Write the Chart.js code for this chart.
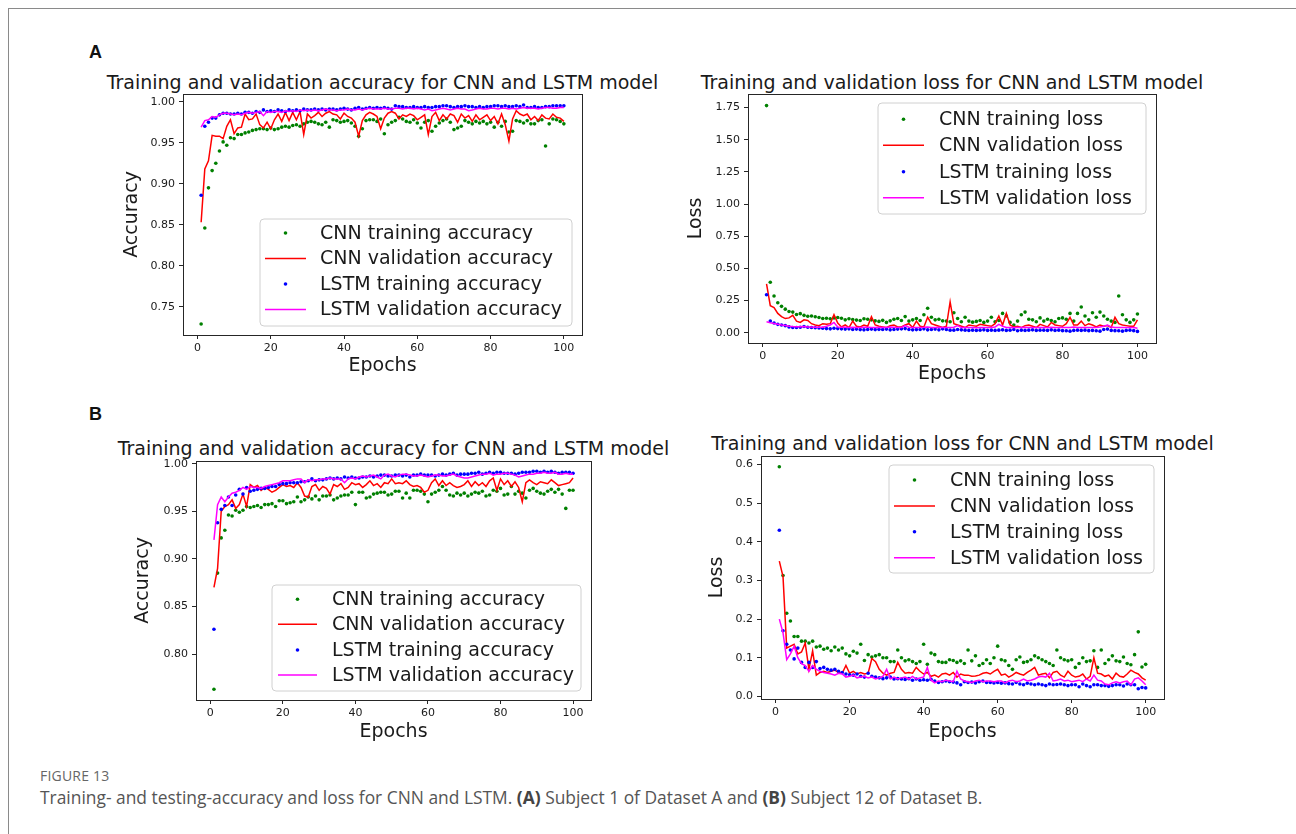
<!DOCTYPE html>
<html><head><meta charset="utf-8">
<script src="https://cdn.jsdelivr.net/npm/chart.js@4.4.1/dist/chart.umd.min.js"></script>
<style>
html,body{margin:0;padding:0;background:#fff;}
#fig{position:relative;width:1296px;height:834px;overflow:hidden;background:#fff;}
.frame-top{position:absolute;left:8px;top:8px;width:1288px;height:1px;background:#8a8a8a;}
.frame-left{position:absolute;left:8px;top:8px;width:1px;height:826px;background:#8a8a8a;}
.panel{position:absolute;font-family:"Liberation Sans",Arial,sans-serif;font-weight:bold;font-size:18px;line-height:18px;color:#111;}
.ttl{position:absolute;font-family:"DejaVu Sans",sans-serif;font-size:19px;line-height:19px;color:#1a1a1a;white-space:nowrap;transform:translate(-50%,-50%);}
canvas{position:absolute;}
.fignum{position:absolute;left:40px;top:766px;font-family:"Open Sans",sans-serif;font-size:14px;color:#666;letter-spacing:0.2px;}
.cap{position:absolute;left:40px;top:785px;font-family:"Open Sans",sans-serif;font-size:17.4px;color:#555;white-space:nowrap;}
.cap b{font-weight:700;color:#444;}
</style>
</head>
<body>
<div id="fig">
  <div class="frame-top"></div><div class="frame-left"></div>
  <div class="panel" style="left:89px;top:43px;">A</div>
  <div class="panel" style="left:89px;top:405px;">B</div>
  <div class="ttl" style="left:382.5px;top:81.7px;">Training and validation accuracy for CNN and LSTM model</div>
  <div class="ttl" style="left:952px;top:81.7px;">Training and validation loss for CNN and LSTM model</div>
  <div class="ttl" style="left:393.5px;top:448.3px;">Training and validation accuracy for CNN and LSTM model</div>
  <div class="ttl" style="left:962.5px;top:442.7px;">Training and validation loss for CNN and LSTM model</div>
  <canvas id="cA1"></canvas>
  <canvas id="cA2"></canvas>
  <canvas id="cB1"></canvas>
  <canvas id="cB2"></canvas>
  <div class="fignum">FIGURE 13</div>
  <div class="cap">Training- and testing-accuracy and loss for CNN and LSTM. <b>(A)</b> Subject 1 of Dataset A and <b>(B)</b> Subject 12 of Dataset B.</div>
</div>
<script>
// ---------- data ----------
const epochs = [1,2,3,4,5,6,7,8,9,10,11,12,13,14,15,16,17,18,19,20,21,22,23,24,25,26,27,28,29,30,31,32,33,34,35,36,37,38,39,40,41,42,43,44,45,46,47,48,49,50,51,52,53,54,55,56,57,58,59,60,61,62,63,64,65,66,67,68,69,70,71,72,73,74,75,76,77,78,79,80,81,82,83,84,85,86,87,88,89,90,91,92,93,94,95,96,97,98,99,100];

const accLabels = ['CNN training accuracy','CNN validation accuracy','LSTM training accuracy','LSTM validation accuracy'];
const lossLabels = ['CNN training loss','CNN validation loss','LSTM training loss','LSTM validation loss'];

const xTicks = [0,20,40,60,80,100];
const xTickLabels = ['0','20','40','60','80','100'];
const yTicksA1 = [0.75,0.80,0.85,0.90,0.95,1.00];
const yTickLabelsA1 = ['0.75','0.80','0.85','0.90','0.95','1.00'];
const yTicksA2 = [0,0.25,0.5,0.75,1.0,1.25,1.5,1.75];
const yTickLabelsA2 = ['0.00','0.25','0.50','0.75','1.00','1.25','1.50','1.75'];
const yTicksB1 = [0.80,0.85,0.90,0.95,1.00];
const yTickLabelsB1 = ['0.80','0.85','0.90','0.95','1.00'];
const yTicksB2 = [0,0.1,0.2,0.3,0.4,0.5,0.6];
const yTickLabelsB2 = ['0.0','0.1','0.2','0.3','0.4','0.5','0.6'];

// Panel A, accuracy
const cnnTrainAccA = [0.729,0.846,0.895,0.916,0.925,0.940,0.951,0.947,0.956,0.955,
0.960,0.960,0.962,0.963,0.965,0.966,0.967,0.967,0.966,0.968,
0.966,0.967,0.969,0.970,0.969,0.971,0.972,0.970,0.973,0.975,
0.976,0.975,0.973,0.972,0.975,0.969,0.978,0.977,0.975,0.976,
0.977,0.974,0.970,0.958,0.967,0.977,0.978,0.978,0.976,0.979,
0.961,0.972,0.975,0.977,0.981,0.979,0.976,0.975,0.978,0.974,
0.968,0.975,0.977,0.964,0.970,0.974,0.977,0.979,0.975,0.966,
0.968,0.970,0.977,0.975,0.973,0.976,0.974,0.976,0.973,0.975,
0.969,0.975,0.970,0.976,0.963,0.964,0.977,0.976,0.974,0.977,
0.973,0.973,0.977,0.978,0.946,0.973,0.979,0.978,0.976,0.973];
const cnnValAccA = [0.853,0.918,0.928,0.959,0.958,0.958,0.955,0.970,0.978,0.961,
0.968,0.969,0.985,0.978,0.979,0.985,0.972,0.968,0.975,0.967,
0.978,0.985,0.976,0.987,0.977,0.987,0.978,0.988,0.960,0.985,
0.980,0.983,0.987,0.982,0.986,0.988,0.985,0.984,0.979,0.986,
0.982,0.980,0.975,0.958,0.977,0.984,0.987,0.985,0.982,0.967,
0.980,0.986,0.988,0.986,0.979,0.984,0.982,0.985,0.983,0.978,
0.981,0.984,0.960,0.982,0.987,0.977,0.984,0.979,0.985,0.983,
0.975,0.985,0.980,0.983,0.976,0.984,0.978,0.981,0.984,0.977,
0.982,0.973,0.985,0.972,0.952,0.979,0.989,0.985,0.983,0.985,
0.978,0.982,0.977,0.984,0.980,0.979,0.985,0.981,0.980,0.976];
const lstmTrainAccA = [0.886,0.970,0.975,0.980,0.980,0.984,0.986,0.986,0.985,0.985,
0.986,0.985,0.987,0.987,0.986,0.988,0.987,0.990,0.988,0.989,
0.988,0.990,0.989,0.988,0.990,0.989,0.990,0.989,0.991,0.990,
0.990,0.991,0.990,0.991,0.990,0.991,0.991,0.990,0.991,0.992,
0.991,0.990,0.992,0.993,0.991,0.992,0.993,0.992,0.993,0.992,
0.993,0.992,0.991,0.995,0.994,0.994,0.993,0.993,0.994,0.993,
0.993,0.994,0.993,0.993,0.994,0.994,0.995,0.995,0.994,0.993,
0.994,0.994,0.995,0.994,0.994,0.993,0.994,0.993,0.994,0.994,
0.995,0.995,0.994,0.995,0.994,0.994,0.995,0.994,0.996,0.993,
0.993,0.994,0.993,0.993,0.994,0.994,0.995,0.995,0.995,0.995];
const lstmValAccA = [0.969,0.977,0.978,0.982,0.981,0.984,0.986,0.986,0.985,0.984,
0.985,0.984,0.986,0.987,0.986,0.987,0.988,0.983,0.988,0.987,
0.988,0.988,0.987,0.989,0.988,0.989,0.988,0.990,0.989,0.990,
0.989,0.990,0.989,0.990,0.991,0.990,0.990,0.989,0.990,0.990,
0.991,0.990,0.990,0.991,0.990,0.991,0.992,0.991,0.991,0.991,
0.992,0.991,0.991,0.992,0.992,0.991,0.992,0.992,0.991,0.992,
0.991,0.990,0.991,0.989,0.990,0.991,0.992,0.991,0.990,0.991,
0.992,0.991,0.991,0.989,0.990,0.991,0.992,0.991,0.991,0.992,
0.992,0.991,0.992,0.992,0.991,0.992,0.991,0.992,0.993,0.992,
0.992,0.992,0.991,0.992,0.993,0.993,0.992,0.992,0.993,0.993];

// Panel A, loss
const cnnTrainLossA = [1.765,0.392,0.285,0.233,0.205,0.183,0.165,0.160,0.142,0.148,
0.135,0.128,0.130,0.124,0.118,0.110,0.112,0.108,0.115,0.118,
0.112,0.100,0.108,0.102,0.098,0.095,0.108,0.105,0.100,0.092,
0.088,0.096,0.080,0.092,0.105,0.110,0.095,0.125,0.090,0.100,
0.110,0.095,0.140,0.190,0.120,0.100,0.105,0.092,0.090,0.085,
0.155,0.110,0.085,0.120,0.090,0.082,0.088,0.095,0.080,0.090,
0.120,0.085,0.095,0.150,0.130,0.080,0.060,0.090,0.140,0.160,
0.105,0.100,0.085,0.115,0.090,0.105,0.095,0.085,0.110,0.115,
0.105,0.150,0.090,0.150,0.200,0.130,0.100,0.155,0.120,0.160,
0.130,0.105,0.090,0.080,0.285,0.140,0.100,0.080,0.100,0.145];
const cnnValLossA = [0.380,0.210,0.195,0.150,0.125,0.110,0.115,0.135,0.090,0.080,
0.100,0.095,0.070,0.060,0.055,0.070,0.065,0.070,0.140,0.075,
0.045,0.060,0.040,0.090,0.050,0.045,0.060,0.050,0.125,0.060,
0.050,0.045,0.040,0.055,0.060,0.045,0.045,0.060,0.070,0.040,
0.090,0.050,0.045,0.120,0.070,0.060,0.050,0.040,0.050,0.240,
0.070,0.060,0.050,0.040,0.060,0.055,0.050,0.065,0.060,0.055,
0.050,0.070,0.130,0.060,0.150,0.060,0.045,0.050,0.040,0.055,
0.060,0.050,0.040,0.065,0.055,0.045,0.080,0.060,0.055,0.050,
0.070,0.120,0.060,0.060,0.090,0.055,0.070,0.060,0.045,0.060,
0.050,0.055,0.040,0.120,0.070,0.060,0.055,0.050,0.050,0.100];
const lstmTrainLossA = [0.295,0.090,0.075,0.065,0.060,0.055,0.045,0.040,0.040,0.042,
0.048,0.042,0.040,0.038,0.036,0.035,0.032,0.030,0.035,0.032,
0.030,0.028,0.030,0.025,0.028,0.024,0.022,0.025,0.028,0.024,
0.026,0.025,0.028,0.022,0.025,0.028,0.030,0.032,0.025,0.022,
0.024,0.025,0.030,0.022,0.025,0.028,0.022,0.030,0.025,0.020,
0.020,0.025,0.022,0.020,0.018,0.020,0.018,0.020,0.022,0.018,
0.020,0.018,0.020,0.022,0.018,0.020,0.025,0.015,0.020,0.018,
0.020,0.022,0.018,0.020,0.020,0.018,0.022,0.018,0.020,0.016,
0.015,0.012,0.018,0.020,0.018,0.020,0.016,0.018,0.015,0.012,
0.025,0.028,0.018,0.016,0.015,0.012,0.018,0.020,0.016,0.010];
const lstmValLossA = [0.085,0.078,0.072,0.066,0.060,0.056,0.050,0.048,0.047,0.046,
0.048,0.045,0.044,0.043,0.042,0.043,0.050,0.060,0.080,0.045,
0.042,0.043,0.040,0.042,0.041,0.040,0.042,0.043,0.040,0.041,
0.042,0.040,0.040,0.045,0.042,0.040,0.041,0.055,0.042,0.040,
0.041,0.040,0.042,0.045,0.041,0.040,0.042,0.040,0.041,0.040,
0.042,0.055,0.040,0.041,0.040,0.040,0.039,0.041,0.040,0.040,
0.041,0.045,0.065,0.050,0.040,0.040,0.041,0.040,0.040,0.042,
0.040,0.041,0.040,0.040,0.041,0.040,0.042,0.040,0.041,0.040,
0.041,0.040,0.045,0.040,0.040,0.041,0.040,0.040,0.041,0.045,
0.050,0.060,0.045,0.040,0.041,0.040,0.040,0.040,0.040,0.035];

// Panel B, accuracy
const cnnTrainAccB = [0.763,0.885,0.922,0.930,0.946,0.945,0.951,0.949,0.951,0.955,
0.954,0.955,0.956,0.954,0.957,0.957,0.958,0.955,0.961,0.961,
0.958,0.959,0.960,0.965,0.960,0.962,0.965,0.963,0.966,0.962,
0.966,0.966,0.967,0.962,0.964,0.966,0.967,0.967,0.970,0.957,
0.970,0.970,0.964,0.965,0.968,0.969,0.970,0.970,0.967,0.968,
0.971,0.971,0.964,0.969,0.964,0.972,0.972,0.971,0.968,0.960,
0.968,0.970,0.972,0.976,0.972,0.967,0.966,0.969,0.967,0.969,
0.966,0.968,0.970,0.969,0.971,0.966,0.967,0.972,0.971,0.974,
0.967,0.968,0.976,0.968,0.971,0.969,0.964,0.972,0.974,0.971,
0.969,0.968,0.971,0.973,0.970,0.973,0.968,0.953,0.972,0.972];
const cnnValAccB = [0.870,0.890,0.950,0.955,0.957,0.962,0.953,0.957,0.968,0.955,
0.978,0.975,0.977,0.972,0.975,0.973,0.970,0.972,0.975,0.978,
0.976,0.977,0.975,0.980,0.975,0.966,0.965,0.976,0.978,0.972,
0.976,0.974,0.968,0.978,0.976,0.979,0.973,0.975,0.980,0.978,
0.979,0.975,0.978,0.982,0.977,0.979,0.975,0.980,0.979,0.984,
0.979,0.980,0.979,0.982,0.978,0.976,0.977,0.975,0.970,0.972,
0.980,0.984,0.977,0.982,0.977,0.980,0.977,0.975,0.976,0.978,
0.982,0.976,0.981,0.977,0.980,0.976,0.982,0.985,0.972,0.984,
0.978,0.982,0.976,0.981,0.975,0.960,0.980,0.983,0.980,0.978,
0.981,0.980,0.979,0.983,0.980,0.977,0.978,0.979,0.980,0.985];
const lstmTrainAccB = [0.826,0.938,0.952,0.956,0.965,0.956,0.967,0.973,0.968,0.975,
0.971,0.972,0.973,0.974,0.974,0.975,0.976,0.976,0.978,0.979,
0.979,0.980,0.980,0.980,0.981,0.981,0.982,0.984,0.982,0.983,
0.983,0.984,0.985,0.984,0.985,0.984,0.986,0.985,0.986,0.985,
0.985,0.986,0.986,0.987,0.986,0.987,0.988,0.988,0.987,0.987,
0.988,0.988,0.987,0.988,0.986,0.988,0.988,0.989,0.988,0.988,
0.988,0.987,0.988,0.989,0.988,0.989,0.990,0.988,0.989,0.989,
0.989,0.990,0.990,0.991,0.989,0.990,0.991,0.990,0.991,0.991,
0.990,0.990,0.990,0.989,0.990,0.991,0.991,0.991,0.992,0.992,
0.991,0.992,0.991,0.992,0.991,0.990,0.991,0.991,0.991,0.990];
const lstmValAccB = [0.920,0.957,0.965,0.960,0.965,0.969,0.970,0.972,0.975,0.973,
0.976,0.975,0.975,0.974,0.976,0.977,0.978,0.979,0.980,0.982,
0.982,0.982,0.983,0.984,0.984,0.980,0.983,0.982,0.983,0.983,
0.984,0.984,0.985,0.984,0.984,0.984,0.980,0.984,0.985,0.984,
0.986,0.987,0.986,0.987,0.988,0.986,0.984,0.988,0.989,0.987,
0.986,0.988,0.989,0.989,0.988,0.987,0.987,0.988,0.987,0.986,
0.987,0.988,0.988,0.987,0.987,0.988,0.989,0.987,0.986,0.985,
0.985,0.986,0.987,0.988,0.989,0.989,0.990,0.988,0.989,0.989,
0.990,0.990,0.989,0.988,0.986,0.987,0.988,0.989,0.989,0.990,
0.990,0.991,0.990,0.990,0.991,0.989,0.989,0.990,0.989,0.989];

// Panel B, loss
const cnnTrainLossB = [0.594,0.313,0.215,0.195,0.155,0.155,0.143,0.143,0.138,0.143,
0.128,0.130,0.122,0.125,0.118,0.128,0.120,0.125,0.110,0.105,
0.117,0.112,0.135,0.093,0.108,0.102,0.105,0.108,0.100,0.100,
0.090,0.090,0.120,0.100,0.092,0.095,0.090,0.085,0.090,0.135,
0.083,0.112,0.108,0.090,0.088,0.088,0.095,0.093,0.088,0.092,
0.085,0.120,0.092,0.105,0.080,0.085,0.095,0.085,0.100,0.130,
0.095,0.092,0.080,0.070,0.095,0.102,0.088,0.090,0.095,0.105,
0.100,0.095,0.090,0.085,0.080,0.120,0.100,0.095,0.092,0.095,
0.075,0.085,0.100,0.090,0.092,0.118,0.075,0.120,0.085,0.095,
0.105,0.092,0.090,0.102,0.085,0.082,0.108,0.167,0.076,0.083];
const cnnValLossB = [0.350,0.310,0.125,0.130,0.135,0.110,0.115,0.138,0.070,0.118,
0.055,0.062,0.065,0.062,0.065,0.068,0.062,0.060,0.080,0.060,
0.065,0.058,0.062,0.058,0.060,0.098,0.090,0.070,0.060,0.055,
0.060,0.062,0.088,0.070,0.060,0.062,0.060,0.075,0.065,0.058,
0.062,0.052,0.055,0.050,0.058,0.060,0.055,0.062,0.050,0.058,
0.055,0.055,0.052,0.053,0.055,0.060,0.062,0.058,0.065,0.070,
0.055,0.058,0.050,0.055,0.062,0.058,0.055,0.062,0.068,0.075,
0.055,0.058,0.060,0.048,0.062,0.065,0.055,0.050,0.065,0.055,
0.050,0.052,0.058,0.045,0.052,0.100,0.060,0.058,0.052,0.055,
0.045,0.060,0.052,0.050,0.058,0.068,0.062,0.058,0.048,0.042];
const lstmTrainLossB = [0.430,0.170,0.135,0.120,0.097,0.125,0.088,0.075,0.088,0.075,
0.090,0.072,0.075,0.070,0.068,0.070,0.065,0.062,0.058,0.056,
0.055,0.058,0.052,0.050,0.060,0.052,0.050,0.048,0.046,0.048,
0.050,0.045,0.046,0.045,0.044,0.046,0.042,0.045,0.042,0.043,
0.042,0.044,0.040,0.036,0.038,0.040,0.038,0.037,0.035,0.030,
0.038,0.036,0.037,0.035,0.038,0.040,0.036,0.036,0.035,0.036,
0.034,0.035,0.033,0.032,0.036,0.032,0.030,0.034,0.032,0.030,
0.032,0.030,0.028,0.032,0.030,0.031,0.032,0.030,0.028,0.030,
0.030,0.025,0.032,0.028,0.025,0.030,0.030,0.028,0.028,0.026,
0.028,0.030,0.030,0.027,0.032,0.030,0.030,0.020,0.023,0.022];
const lstmValLossB = [0.200,0.165,0.095,0.110,0.130,0.100,0.085,0.080,0.065,0.080,
0.070,0.065,0.062,0.060,0.058,0.055,0.060,0.058,0.050,0.052,
0.055,0.048,0.050,0.052,0.048,0.050,0.045,0.048,0.052,0.070,
0.045,0.050,0.045,0.048,0.050,0.045,0.052,0.045,0.048,0.050,
0.075,0.042,0.035,0.040,0.038,0.042,0.040,0.038,0.065,0.045,
0.040,0.038,0.036,0.040,0.042,0.038,0.040,0.040,0.038,0.040,
0.040,0.035,0.040,0.042,0.038,0.040,0.045,0.040,0.042,0.045,
0.050,0.052,0.050,0.060,0.040,0.042,0.045,0.040,0.042,0.038,
0.040,0.042,0.038,0.045,0.040,0.055,0.042,0.040,0.032,0.030,
0.035,0.038,0.035,0.038,0.040,0.030,0.045,0.048,0.040,0.030];

// ---------- styling ----------
const GREEN = '#008000', RED = '#ff0000', BLUE = '#0000ff', MAGENTA = '#ff00ff';
const TXT = '#1a1a1a', AX = '#262626';
const FONT = '"DejaVu Sans", sans-serif';
const BIG = 19, SMALL = 11, LH = 1.2;
const YAXW = 90, XAXH = 58, PADT = 22, PADR = 25;

const mplPlugin = {
  id: 'mpl',
  afterDatasetsDraw(chart, args, o) {
    const ctx = chart.ctx, a = chart.chartArea;
    ctx.save();
    ctx.strokeStyle = AX; ctx.lineWidth = 1;
    ctx.strokeRect(Math.round(a.left) + 0.5, Math.round(a.top) + 0.5,
                   Math.round(a.right) - Math.round(a.left), Math.round(a.bottom) - Math.round(a.top));
    const lg = o.legend, ox = o.ox, oy = o.oy;
    const bx = lg.x - ox, by = lg.y - oy, r = 4;
    ctx.beginPath();
    ctx.moveTo(bx + r, by);
    ctx.arcTo(bx + lg.w, by, bx + lg.w, by + lg.h, r);
    ctx.arcTo(bx + lg.w, by + lg.h, bx, by + lg.h, r);
    ctx.arcTo(bx, by + lg.h, bx, by, r);
    ctx.arcTo(bx, by, bx + lg.w, by, r);
    ctx.closePath();
    ctx.fillStyle = 'rgba(255,255,255,0.8)';
    ctx.fill();
    ctx.strokeStyle = '#d0d0d0'; ctx.lineWidth = 1;
    ctx.stroke();
    ctx.font = BIG + 'px ' + FONT;
    ctx.textBaseline = 'middle';
    ctx.textAlign = 'left';
    chart.data.datasets.forEach((ds, i) => {
      const y = lg.rows[i] - oy;
      if (ds.showLine === false) {
        ctx.fillStyle = ds.pointBackgroundColor;
        ctx.beginPath();
        ctx.arc((lg.hx1 + lg.hx2) / 2 - ox, y, 1.8, 0, Math.PI * 2);
        ctx.fill();
      } else {
        ctx.strokeStyle = ds.borderColor; ctx.lineWidth = 1.5;
        ctx.beginPath();
        ctx.moveTo(lg.hx1 - ox, y); ctx.lineTo(lg.hx2 - ox, y);
        ctx.stroke();
      }
      ctx.fillStyle = TXT;
      ctx.fillText(ds.label, lg.tx - ox, y + 1);
    });
    ctx.restore();
  }
};

function pts(vals) { return epochs.map((e, i) => ({ x: e, y: vals[i] })); }

function build(id, cfg) {
  const a = cfg.area;
  const L = a.l - YAXW, T = a.t - PADT;
  const W = a.r + PADR - L, H = a.b + XAXH - T;
  const cv = document.getElementById(id);
  cv.width = W; cv.height = H;
  cv.style.left = L + 'px'; cv.style.top = T + 'px';
  cv.style.width = W + 'px'; cv.style.height = H + 'px';
  const half = BIG * LH / 2;
  const xTitlePad = (T + H - cfg.xLabY) - half;
  const yTitlePad = (cfg.yLabX - L) - half;
  const s = cfg.series, labels = cfg.labels;
  const datasets = [
    { label: labels[0], data: pts(s[0]), showLine: false, pointRadius: 1.8, pointBorderWidth: 0,
      pointBackgroundColor: GREEN, backgroundColor: GREEN, borderColor: GREEN, order: 3 },
    { label: labels[1], data: pts(s[1]), borderColor: RED, backgroundColor: RED, borderWidth: 1.5,
      pointRadius: 0, tension: 0, fill: false, order: 2 },
    { label: labels[2], data: pts(s[2]), showLine: false, pointRadius: 1.8, pointBorderWidth: 0,
      pointBackgroundColor: BLUE, backgroundColor: BLUE, borderColor: BLUE, order: 1 },
    { label: labels[3], data: pts(s[3]), borderColor: MAGENTA, backgroundColor: MAGENTA, borderWidth: 1.5,
      pointRadius: 0, tension: 0, fill: false, order: 0 }
  ];
  const tickFont = { family: FONT, size: SMALL };
  new Chart(cv, {
    type: 'line',
    data: { datasets },
    plugins: [mplPlugin],
    options: {
      responsive: false, animation: false, devicePixelRatio: 1,
      layout: { padding: { top: PADT, right: PADR, left: 0, bottom: 0 } },
      plugins: {
        legend: { display: false }, tooltip: { enabled: false }, title: { display: false },
        mpl: { legend: cfg.legend, ox: L, oy: T }
      },
      scales: {
        x: {
          type: 'linear', min: -3.95, max: 104.95,
          afterBuildTicks: sc => { sc.ticks = xTicks.map(v => ({ value: v })); },
          afterFit: sc => { sc.height = XAXH; },
          ticks: { autoSkip: false, maxRotation: 0, padding: 3, color: TXT, font: tickFont,
                   callback: (v, i) => xTickLabels[i] },
          grid: { drawOnChartArea: false, drawTicks: true, tickLength: 4, color: AX, lineWidth: 1 },
          border: { display: true, color: AX, width: 1 },
          title: { display: true, text: 'Epochs', color: TXT,
                   font: { family: FONT, size: BIG, lineHeight: LH }, padding: { top: 0, bottom: xTitlePad } }
        },
        y: {
          type: 'linear', min: cfg.yMin, max: cfg.yMax,
          afterBuildTicks: sc => { sc.ticks = cfg.yTicks.map(v => ({ value: v })); },
          afterFit: sc => { sc.width = YAXW; },
          ticks: { autoSkip: false, padding: 4, color: TXT, font: tickFont,
                   callback: (v, i) => cfg.yTickLabels[i] },
          grid: { drawOnChartArea: false, drawTicks: true, tickLength: 4, color: AX, lineWidth: 1 },
          border: { display: true, color: AX, width: 1 },
          title: { display: true, text: cfg.yTitle, color: TXT,
                   font: { family: FONT, size: BIG, lineHeight: LH }, padding: { top: yTitlePad, bottom: 0 } }
        }
      }
    }
  });
}

build('cA1', {
  area: { l: 183, t: 94, r: 582, b: 335 }, yMin: 0.7156, yMax: 1.0094,
  yTicks: yTicksA1, yTickLabels: yTickLabelsA1, yTitle: 'Accuracy', yLabX: 131.7, xLabY: 366,
  labels: accLabels, series: [cnnTrainAccA, cnnValAccA, lstmTrainAccA, lstmValAccA],
  legend: { x: 260, y: 219, w: 312, h: 107, rows: [233, 258.5, 284, 309.5], hx1: 265, hx2: 306, tx: 320 }
});
build('cA2', {
  area: { l: 748, t: 94, r: 1156, b: 343 }, yMin: -0.080, yMax: 1.855,
  yTicks: yTicksA2, yTickLabels: yTickLabelsA2, yTitle: 'Loss', yLabX: 695.7, xLabY: 374,
  labels: lossLabels, series: [cnnTrainLossA, cnnValLossA, lstmTrainLossA, lstmValLossA],
  legend: { x: 878, y: 103, w: 268, h: 111, rows: [119.3, 145.3, 171.7, 197.7], hx1: 883, hx2: 924, tx: 939 }
});
build('cB1', {
  area: { l: 196, t: 461, r: 591, b: 700 }, yMin: 0.7517, yMax: 1.0028,
  yTicks: yTicksB1, yTickLabels: yTickLabelsB1, yTitle: 'Accuracy', yLabX: 143.3, xLabY: 731.7,
  labels: accLabels, series: [cnnTrainAccB, cnnValAccB, lstmTrainAccB, lstmValAccB],
  legend: { x: 272, y: 585, w: 309, h: 106, rows: [599.3, 624.3, 650, 675], hx1: 278, hx2: 317, tx: 332 }
});
build('cB2', {
  area: { l: 761, t: 456, r: 1164, b: 699 }, yMin: -0.0067, yMax: 0.622,
  yTicks: yTicksB2, yTickLabels: yTickLabelsB2, yTitle: 'Loss', yLabX: 717.3, xLabY: 731.7,
  labels: lossLabels, series: [cnnTrainLossB, cnnValLossB, lstmTrainLossB, lstmValLossB],
  legend: { x: 889, y: 465, w: 265, h: 108, rows: [480, 506, 531.7, 557.7], hx1: 894, hx2: 935, tx: 950 }
});
</script>
</body></html>
